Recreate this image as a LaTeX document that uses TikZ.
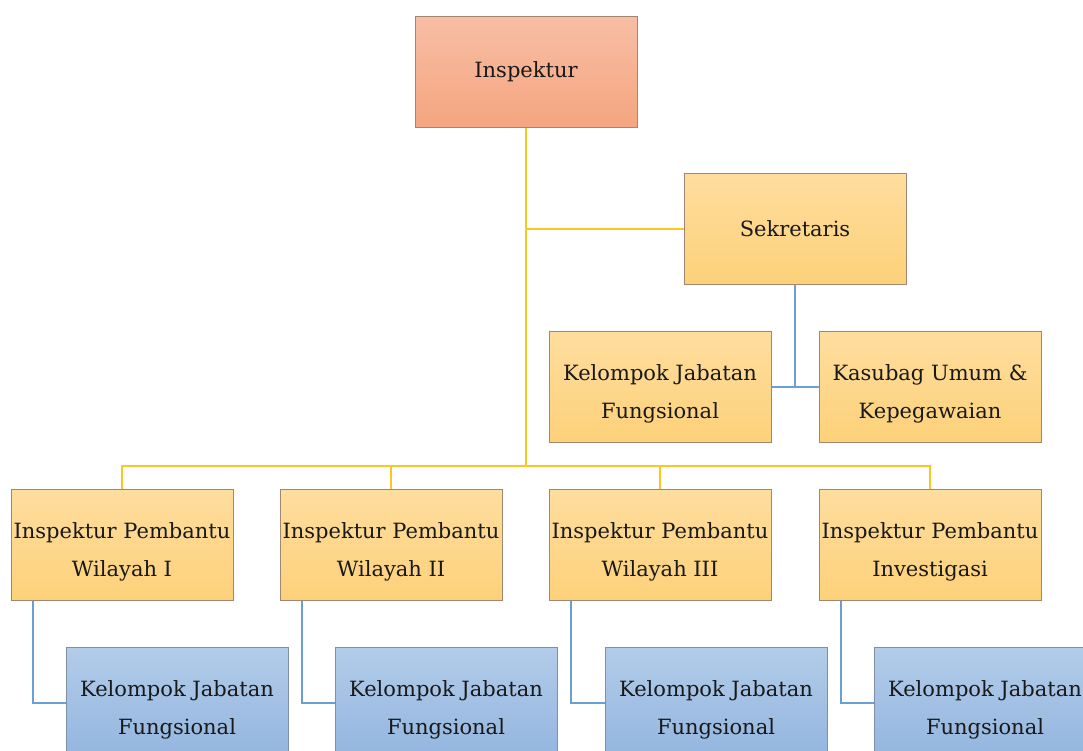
\documentclass[tikz,border=0pt]{standalone}
\usepackage{fontspec}
\setmainfont{DejaVu Serif}
\definecolor{topred}{HTML}{F7BEA5}
\definecolor{botred}{HTML}{F5A57F}
\definecolor{topyel}{HTML}{FEDD9E}
\definecolor{botyel}{HTML}{FDD179}
\definecolor{topblu}{HTML}{B2CCE9}
\definecolor{botblu}{HTML}{93B5DF}
\definecolor{boxline}{HTML}{A08870}
\definecolor{bluboxline}{HTML}{7F8FA6}
\definecolor{yelwire}{HTML}{FFC623}
\definecolor{bluwire}{HTML}{6A9FD6}
% tall invisible strut that lowers two-line labels inside their boxes
\newcommand\lowerstrut{\rule{0pt}{29pt}}
\tikzset{
  unit/.style={rectangle, draw=boxline, line width=1pt,
    minimum width=222pt, minimum height=111pt, inner sep=0pt,
    align=center, font=\fontsize{21}{38}\selectfont, text=black!90},
  headbox/.style={unit, top color=topred, bottom color=botred},
  staffbox/.style={unit, top color=topyel, bottom color=botyel},
  groupbox/.style={unit, draw=bluboxline, top color=topblu, bottom color=botblu},
  yline/.style={draw=yelwire, line width=2pt},
  bline/.style={draw=bluwire, line width=2pt}
}
\begin{document}
\begin{tikzpicture}[x=1pt,y=-1pt]
\useasboundingbox (0,0) rectangle (1083,751);
\clip (0,0) rectangle (1083,751);
\fill[white] (0,0) rectangle (1083,751);

% top level
\node[headbox] (insp) at (526,72) {Inspektur};
\node[staffbox] (sek) at (795,229) {Sekretaris};
\node[staffbox] (kjf0) at (660,387) {\lowerstrut Kelompok Jabatan\\Fungsional};
\node[staffbox] (kasu) at (930,387) {\lowerstrut Kasubag Umum \&\\Kepegawaian};

% assistant inspectors
\node[staffbox] (ip1) at (122,545) {\lowerstrut Inspektur Pembantu\\Wilayah I};
\node[staffbox] (ip2) at (391,545) {\lowerstrut Inspektur Pembantu\\Wilayah II};
\node[staffbox] (ip3) at (660,545) {\lowerstrut Inspektur Pembantu\\Wilayah III};
\node[staffbox] (ip4) at (930,545) {\lowerstrut Inspektur Pembantu\\Investigasi};

% functional groups
\node[groupbox] (kjf1) at (177,703) {\lowerstrut Kelompok Jabatan\\Fungsional};
\node[groupbox] (kjf2) at (446,703) {\lowerstrut Kelompok Jabatan\\Fungsional};
\node[groupbox] (kjf3) at (716,703) {\lowerstrut Kelompok Jabatan\\Fungsional};
\node[groupbox] (kjf4) at (985,703) {\lowerstrut Kelompok Jabatan\\Fungsional};

\coordinate (bus) at (526,466);

% yellow hierarchy lines
\draw[yline] (insp.south) -- (bus);
\draw[yline] (insp.south |- sek.west) -- (sek.west);
\draw[yline] (ip1.north) -- (ip1.north |- bus) -- (ip4.north |- bus) -- (ip4.north);
\draw[yline] (ip2.north) -- (ip2.north |- bus);
\draw[yline] (ip3.north) -- (ip3.north |- bus);

% blue lines under the secretary
\draw[bline] (sek.south) -- (sek.south |- kjf0.east);
\draw[bline] (kjf0.east) -- (kasu.west);

% blue lines to the functional groups
\foreach \i in {1,2,3,4}{
  \draw[bline] ([xshift=22pt]ip\i.south west) |- (kjf\i.west);
}
\end{tikzpicture}
\end{document}
